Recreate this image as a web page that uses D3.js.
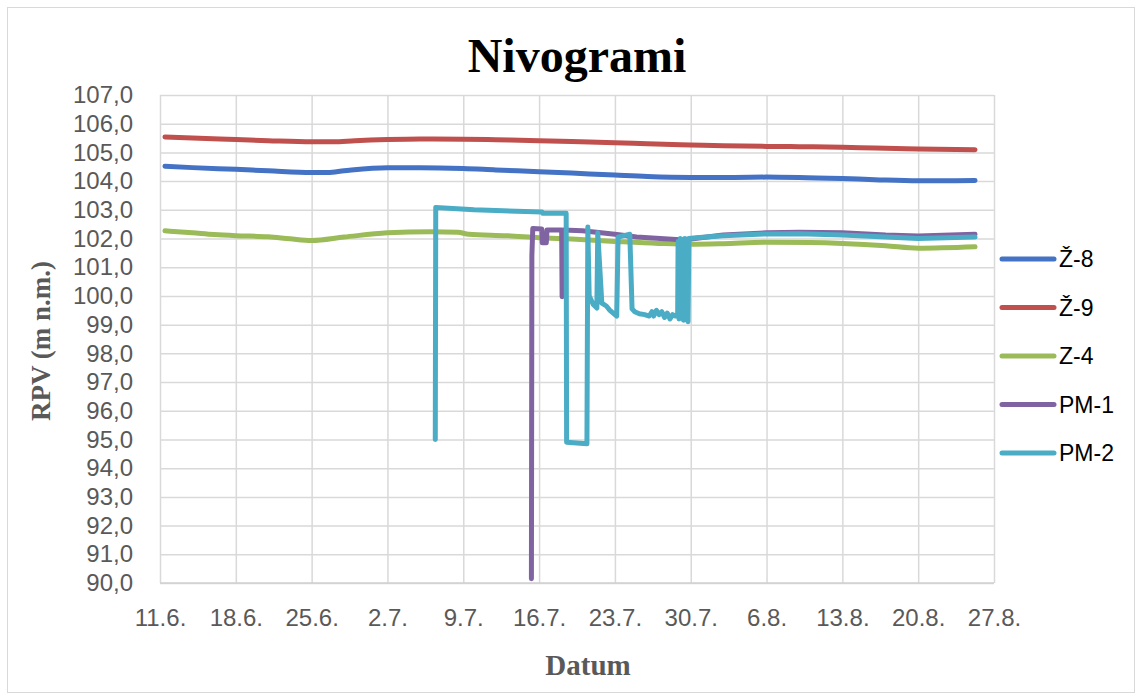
<!DOCTYPE html>
<html>
<head>
<meta charset="utf-8">
<script src="https://cdn.jsdelivr.net/npm/d3@7"></script>
<style>
  html, body { margin: 0; padding: 0; background: #fff; }
  svg { display: block; }
</style>
</head>
<body>
<svg id="chart" width="1142" height="700"></svg>
<script>
// ---------- DATA ----------
const title = "Nivogrami";
const yTitle = "RPV (m n.m.)";
const xTitle = "Datum";
const xStart = "06-11 00:00";
const xEnd = "08-27 00:00";
const xTickDates = ["06-11","06-18","06-25","07-02","07-09","07-16","07-23","07-30","08-06","08-13","08-20","08-27"];
const yTickValues = [90,91,92,93,94,95,96,97,98,99,100,101,102,103,104,105,106,107];
const seriesNames = ["Ž-8", "Ž-9", "Z-4", "PM-1", "PM-2"];
const seriesColors = ["#4472C4", "#C0504D", "#9BBB59", "#8064A2", "#4BACC6"];

const z8 = [
  ["06-11 11:00",104.52],["06-14 00:00",104.47],["06-18 00:00",104.41],["06-21 00:00",104.36],
  ["06-25 00:00",104.30],["06-26 12:00",104.30],["06-28 00:00",104.36],["07-02 00:00",104.47],
  ["07-05 00:00",104.47],["07-09 00:00",104.44],["07-12 00:00",104.39],["07-16 00:00",104.33],
  ["07-19 00:00",104.28],["07-23 00:00",104.21],["07-26 00:00",104.16],["07-30 00:00",104.13],
  ["08-03 00:00",104.13],["08-06 00:00",104.14],["08-09 00:00",104.13],["08-13 00:00",104.09],
  ["08-16 00:00",104.05],["08-20 00:00",104.01],["08-25 06:00",104.02]
];
const z9 = [
  ["06-11 11:00",105.54],["06-14 00:00",105.50],["06-18 00:00",105.45],["06-21 00:00",105.41],
  ["06-25 00:00",105.37],["06-27 00:00",105.37],["06-29 00:00",105.41],["07-02 00:00",105.45],
  ["07-05 00:00",105.47],["07-09 00:00",105.46],["07-12 00:00",105.44],["07-16 00:00",105.41],
  ["07-19 00:00",105.38],["07-23 00:00",105.34],["07-26 00:00",105.30],["07-30 00:00",105.26],
  ["08-02 00:00",105.23],["08-06 00:00",105.21],["08-09 00:00",105.20],["08-13 00:00",105.18],
  ["08-16 00:00",105.15],["08-20 00:00",105.12],["08-25 06:00",105.09]
];
const z4 = [
  ["06-11 11:00",102.27],["06-14 00:00",102.20],["06-16 00:00",102.14],["06-18 00:00",102.10],
  ["06-21 00:00",102.06],["06-23 00:00",101.99],["06-25 00:00",101.93],["06-28 00:00",102.05],
  ["07-02 00:00",102.20],["07-06 00:00",102.24],["07-08 12:00",102.22],["07-09 12:00",102.15],
  ["07-13 00:00",102.10],["07-16 00:00",102.03],["07-19 00:00",101.98],["07-23 00:00",101.90],
  ["07-27 00:00",101.83],["07-30 00:00",101.80],["08-02 00:00",101.82],["08-06 00:00",101.87],
  ["08-10 00:00",101.86],["08-13 00:00",101.83],["08-17 00:00",101.75],["08-20 00:00",101.66],
  ["08-25 06:00",101.71]
];
const pm1 = [
  ["07-15 07:00",90.15],["07-15 08:00",101.40],["07-15 10:00",102.35],["07-16 06:00",102.33],
  ["07-16 07:00",101.85],["07-16 16:00",101.85],["07-16 17:30",102.30],["07-18 02:00",102.30],
  ["07-18 03:00",99.97],["07-18 05:00",102.30],["07-20 00:00",102.27],["07-23 00:00",102.15],
  ["07-25 00:00",102.05],["07-29 00:00",101.96],["07-30 00:00",101.98],["08-02 00:00",102.12],
  ["08-06 00:00",102.20],["08-09 00:00",102.22],["08-13 00:00",102.20],["08-17 00:00",102.12],
  ["08-20 00:00",102.09],["08-25 06:00",102.15]
];
const pm2 = [
  ["07-06 10:00",95.00],["07-06 11:00",103.08],["07-10 00:00",103.00],["07-16 07:00",102.92],
  ["07-16 08:00",102.88],["07-18 12:00",102.88],["07-18 13:00",94.90],["07-20 10:00",94.85],
  ["07-20 12:00",102.40],["07-20 15:00",100.00],["07-21 00:00",99.70],["07-21 08:00",99.58],
  ["07-21 10:00",102.20],["07-21 19:00",99.75],["07-22 05:00",99.65],["07-22 13:00",99.50],
  ["07-23 04:00",99.30],["07-23 07:00",102.05],["07-24 09:00",102.15],["07-24 14:00",99.55],
  ["07-24 20:00",99.45],["07-25 06:00",99.38],["07-25 18:00",99.35],["07-26 04:00",99.30],
  ["07-26 10:00",99.45],["07-26 14:00",99.30],["07-26 20:00",99.50],["07-27 02:00",99.35],
  ["07-27 08:00",99.45],["07-27 14:00",99.25],["07-27 20:00",99.40],["07-28 02:00",99.20],
  ["07-28 08:00",99.35],["07-28 14:00",99.30],["07-28 19:00",99.30],["07-28 20:00",101.90],
  ["07-28 22:00",99.20],["07-29 01:00",102.00],["07-29 03:00",99.30],["07-29 06:00",101.95],
  ["07-29 08:00",99.15],["07-29 11:00",102.00],["07-29 13:00",99.20],["07-29 16:00",101.90],
  ["07-29 18:00",99.10],["07-29 20:00",102.00],["07-30 12:00",102.03],["08-02 00:00",102.10],
  ["08-06 00:00",102.16],["08-09 00:00",102.17],["08-13 00:00",102.12],["08-17 00:00",102.05],
  ["08-20 00:00",102.00],["08-25 06:00",102.05]
];
const seriesData = [z8, z9, z4, pm1, pm2];
const smoothSeries = [true, true, true, false, false];

// ---------- CHART ----------
const parse = s => d3.utcParse("%Y-%m-%d %H:%M")("2019-" + s);
const parseDay = s => d3.utcParse("%Y-%m-%d")("2019-" + s);

const svg = d3.select("#chart");
const W = 1142, H = 700;
const plot = { left: 160, right: 994, top: 95, bottom: 583 };
const tickFont = "'Liberation Sans', Arial, sans-serif";

svg.append("rect")
  .attr("x", 7.5).attr("y", 7.5).attr("width", W - 15).attr("height", H - 15)
  .attr("fill", "#fff").attr("stroke", "#d9d9d9").attr("stroke-width", 1);

const x = d3.scaleUtc().domain([parse(xStart), parse(xEnd)]).range([plot.left, plot.right]);
const y = d3.scaleLinear().domain([90, 107]).range([plot.bottom, plot.top]);

const tickDates = xTickDates.map(parseDay);
const fmtX = d3.utcFormat("%-d.%-m.");
const fmtY = v => d3.format(".1f")(v).replace(".", ",");

// horizontal gridlines
const yAxis = d3.axisLeft(y).tickValues(yTickValues).tickFormat(fmtY)
  .tickSize(-(plot.right - plot.left)).tickPadding(27);
const gy = svg.append("g").attr("transform", `translate(${plot.left},0)`).call(yAxis);
gy.select(".domain").remove();
gy.selectAll(".tick line").attr("stroke", "#d9d9d9").attr("stroke-width", 1.5);
gy.selectAll(".tick text")
  .attr("fill", "#595959").style("font-family", tickFont).style("font-size", "24px");

// vertical gridlines
const xAxis = d3.axisBottom(x).tickValues(tickDates).tickFormat(fmtX)
  .tickSize(-(plot.bottom - plot.top)).tickPadding(26);
const gx = svg.append("g").attr("transform", `translate(0,${plot.bottom})`).call(xAxis);
gx.select(".domain").remove();
gx.selectAll(".tick line").attr("stroke", "#d9d9d9").attr("stroke-width", 1.5);
gx.selectAll(".tick text")
  .attr("fill", "#595959").style("font-family", tickFont).style("font-size", "24px");

// bottom axis line
svg.append("line")
  .attr("x1", plot.left).attr("x2", plot.right)
  .attr("y1", y(90)).attr("y2", y(90))
  .attr("stroke", "#d0d0d0").attr("stroke-width", 1.5);

// series lines
seriesData.forEach((data, i) => {
  const line = d3.line()
    .x(d => x(parse(d[0])))
    .y(d => y(d[1]))
    .curve(smoothSeries[i] ? d3.curveMonotoneX : d3.curveLinear);
  svg.append("path")
    .datum(data)
    .attr("d", line)
    .attr("fill", "none")
    .attr("stroke", seriesColors[i])
    .attr("stroke-width", 5)
    .attr("stroke-linejoin", "round")
    .attr("stroke-linecap", "round");
});

// title
svg.append("text")
  .attr("x", 577).attr("y", 72)
  .attr("text-anchor", "middle")
  .style("font-family", "'Liberation Serif', 'Times New Roman', serif")
  .style("font-weight", "bold").style("font-size", "48px")
  .attr("fill", "#000")
  .text(title);

// y title
svg.append("text")
  .attr("transform", `translate(50,341) rotate(-90)`)
  .attr("text-anchor", "middle")
  .style("font-family", "'Liberation Serif', 'Times New Roman', serif")
  .style("font-weight", "bold").style("font-size", "27px")
  .attr("fill", "#595959")
  .text(yTitle);

// x title
svg.append("text")
  .attr("x", 588).attr("y", 675)
  .attr("text-anchor", "middle")
  .style("font-family", "'Liberation Serif', 'Times New Roman', serif")
  .style("font-weight", "bold").style("font-size", "29px")
  .attr("fill", "#595959")
  .text(xTitle);

// legend
const legend = svg.append("g");
seriesNames.forEach((name, i) => {
  const ly = 259 + i * 48.5;
  legend.append("line")
    .attr("x1", 1002).attr("x2", 1054).attr("y1", ly).attr("y2", ly)
    .attr("stroke", seriesColors[i]).attr("stroke-width", 5).attr("stroke-linecap", "round");
  legend.append("text")
    .attr("x", 1059).attr("y", ly).attr("dy", "0.35em")
    .style("font-family", tickFont).style("font-size", "23px")
    .attr("fill", "#000")
    .text(name);
});
</script>
</body>
</html>
